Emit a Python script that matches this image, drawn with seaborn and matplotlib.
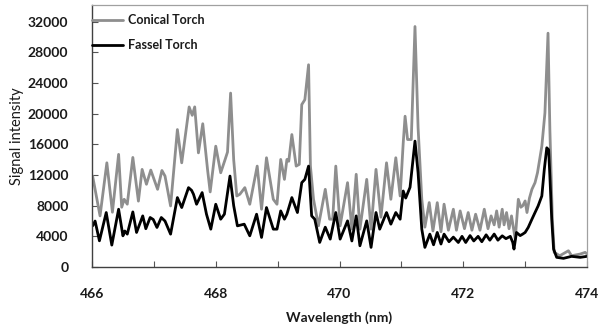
import numpy as np
import pandas as pd
import matplotlib
matplotlib.use("Agg")
import matplotlib.pyplot as plt
from matplotlib.ticker import MultipleLocator
import seaborn as sns

# ---------------- data ----------------
conical_wl = [466.01, 466.13, 466.24, 466.33, 466.43, 466.48, 466.52, 466.57, 466.66, 466.75,
              466.81, 466.88, 466.95, 467.06, 467.13, 467.18, 467.27, 467.38, 467.45, 467.57,
              467.62, 467.66, 467.72, 467.79, 467.87, 467.91, 468.00, 468.08, 468.15, 468.19,
              468.24, 468.29, 468.34, 468.39, 468.47, 468.55, 468.67, 468.74, 468.82, 468.93,
              468.99, 469.05, 469.11, 469.15, 469.18, 469.23, 469.30, 469.35, 469.39, 469.44,
              469.50, 469.53, 469.58, 469.66, 469.77, 469.84, 469.89, 469.94, 470.01, 470.13,
              470.20, 470.27, 470.33, 470.44, 470.51, 470.59, 470.67, 470.76, 470.83, 470.91,
              470.98, 471.03, 471.06, 471.10, 471.16, 471.22, 471.27, 471.33, 471.38, 471.45,
              471.51, 471.58, 471.64, 471.69, 471.76, 471.84, 471.89, 471.95, 472.02, 472.08,
              472.14, 472.20, 472.27, 472.34, 472.40, 472.45, 472.50, 472.54, 472.58, 472.63,
              472.66, 472.70, 472.74, 472.78, 472.84, 472.89, 472.93, 472.96, 473.00, 473.03,
              473.07, 473.11, 473.16, 473.20, 473.27, 473.32, 473.37, 473.40, 473.44, 473.47,
              473.56, 473.70, 473.75, 473.89, 473.97, 474.00]
conical = [11870, 6670, 13600, 7150, 14700, 7800, 8840, 8200, 14300, 8600,
           12740, 10800, 12650, 10140, 12600, 11870, 7970, 17940, 13600, 20890,
           19800, 20900, 14900, 18700, 12530, 9800, 15770, 12300, 14000, 15000,
           22700, 14000, 9270, 9500, 10360, 8190, 13170, 7540, 14260, 8840,
           8190, 14040, 11440, 14040, 13800, 17290, 13170, 13400, 21200, 21840,
           26400, 13170, 8840, 5370, 10140, 6240, 6240, 13170, 5370, 11010,
           4940, 12100, 4940, 11440, 4940, 12740, 6500, 13600, 8840, 14260,
           9270, 16210, 19680, 16640, 16640, 31390, 18200, 8840, 5200, 8410,
           4700, 8400, 4600, 8200, 4800, 7540, 4800, 7320, 5000, 7110,
           4800, 6890, 4800, 7540, 5000, 6670, 5500, 7320, 5200, 7540,
           5500, 7110, 5000, 6670, 3640, 8840, 7800, 7980, 8620, 7110,
           9000, 10140, 11010, 12310, 15770, 20110, 30520, 17940, 6240, 1910,
           1470, 2120, 1470, 1690, 1910, 1700]

fassel_wl = [466.01, 466.05, 466.12, 466.23, 466.32, 466.43, 466.50, 466.53, 466.57, 466.66,
             466.72, 466.82, 466.87, 466.94, 466.99, 467.05, 467.12, 467.18, 467.27, 467.38,
             467.45, 467.56, 467.61, 467.64, 467.69, 467.78, 467.85, 467.92, 468.00, 468.08,
             468.14, 468.23, 468.29, 468.35, 468.46, 468.55, 468.66, 468.74, 468.82, 468.93,
             468.99, 469.05, 469.11, 469.15, 469.23, 469.32, 469.39, 469.44, 469.50, 469.55,
             469.60, 469.68, 469.77, 469.85, 469.94, 470.01, 470.13, 470.20, 470.27, 470.33,
             470.44, 470.51, 470.59, 470.65, 470.76, 470.83, 470.91, 470.98, 471.03, 471.07,
             471.14, 471.22, 471.27, 471.33, 471.38, 471.46, 471.52, 471.58, 471.64, 471.69,
             471.77, 471.84, 471.92, 471.98, 472.04, 472.11, 472.17, 472.24, 472.30, 472.37,
             472.43, 472.50, 472.56, 472.63, 472.69, 472.76, 472.80, 472.82, 472.86, 472.92,
             472.96, 473.00, 473.05, 473.11, 473.16, 473.21, 473.27, 473.31, 473.35, 473.38,
             473.40, 473.43, 473.46, 473.51, 473.62, 473.75, 473.89, 474.00]
fassel = [5370, 6000, 3420, 7110, 2860, 7540, 4070, 4700, 4290, 7190,
          4510, 6670, 5000, 6460, 6200, 5160, 6460, 6000, 4290, 9060,
          7760, 10360, 10000, 9500, 8190, 9710, 6900, 4940, 8190, 6240,
          6900, 11870, 8000, 5370, 5590, 4070, 6890, 3860, 7760, 4940,
          4940, 7320, 6240, 6900, 9060, 7110, 11010, 11440, 13170, 6670,
          6240, 3210, 5200, 3640, 7110, 3640, 6020, 3400, 6670, 2770,
          6020, 2560, 7110, 4940, 7110, 5590, 7110, 6240, 9920, 9000,
          10400, 16430, 12310, 4940, 2560, 4290, 2900, 4510, 3000, 4290,
          3300, 3900, 3200, 4000, 3200, 4100, 3400, 4000, 3300, 4200,
          3500, 4300, 3500, 4070, 3700, 4000, 3210, 2340, 4510, 4100,
          4290, 4510, 5160, 6240, 7110, 7970, 9270, 12740, 15560, 15300,
          11870, 6240, 2340, 1260, 1130, 1390, 1260, 1390]

series_names = ["Conical Torch", "Fassel Torch"]
series_colors = ["#8e8e8e", "#000000"]
x_ticks = [466, 468, 470, 472, 474]
y_ticks = [0, 4000, 8000, 12000, 16000, 20000, 24000, 28000, 32000]

df = pd.concat([
    pd.DataFrame({"Wavelength": conical_wl, "Signal": conical, "Torch": series_names[0]}),
    pd.DataFrame({"Wavelength": fassel_wl, "Signal": fassel, "Torch": series_names[1]}),
], ignore_index=True)

# ---------------- plot ----------------
sns.set_theme(style="white")
plt.rcParams["font.family"] = ["Lato", "DejaVu Sans"]

fig = plt.figure(figsize=(6.02, 3.31), dpi=100)
ax = fig.add_axes([92 / 602, 64 / 331, 495 / 602, 262 / 331])

sns.lineplot(data=df, x="Wavelength", y="Signal", hue="Torch",
             palette=dict(zip(series_names, series_colors)),
             hue_order=series_names, sort=False, estimator=None,
             linewidth=2.0, ax=ax)
for ln in ax.get_lines():
    ln.set_solid_joinstyle("round")
    ln.set_solid_capstyle("round")

ax.set_xlim(466, 474)
ax.set_ylim(0, 34200)
ax.set_xticks(x_ticks)
ax.xaxis.set_minor_locator(MultipleLocator(1))
ax.set_yticks(y_ticks)
ax.set_xticklabels([str(t) for t in x_ticks], fontweight="bold", fontsize=10, color="#1a1a1a")
ax.set_yticklabels([str(t) for t in y_ticks], fontweight="bold", fontsize=10, color="#1a1a1a")
ax.tick_params(axis="x", which="both", direction="in", length=4, width=0.8,
               color="#555555", pad=15, bottom=True)
ax.tick_params(axis="y", which="major", direction="in", length=4, width=0.8,
               color="#555555", pad=17, left=True)

ax.set_xlabel("Wavelength (nm)", fontweight="bold", fontsize=10, color="#1a1a1a", labelpad=8)
ax.set_ylabel("Signal intensity", fontsize=10.5, color="#1a1a1a", labelpad=3)

for side in ["left", "bottom"]:
    ax.spines[side].set_color("#404040")
    ax.spines[side].set_linewidth(1.0)
for side in ["top", "right"]:
    ax.spines[side].set_color("#a0a0a0")
    ax.spines[side].set_linewidth(0.9)
ax.grid(False)

handles, labels = ax.get_legend_handles_labels()
leg = ax.legend(handles, labels, loc="upper left", bbox_to_anchor=(0.0, 0.965),
                frameon=False, borderpad=0, borderaxespad=0, handlelength=2.5,
                handletextpad=0.35, labelspacing=1.05,
                prop={"weight": "bold", "size": 9})
for t in leg.get_texts():
    t.set_color("#1a1a1a")
for lh in leg.get_lines():
    lh.set_linewidth(2.0)

fig.savefig("out.png", dpi=100)
